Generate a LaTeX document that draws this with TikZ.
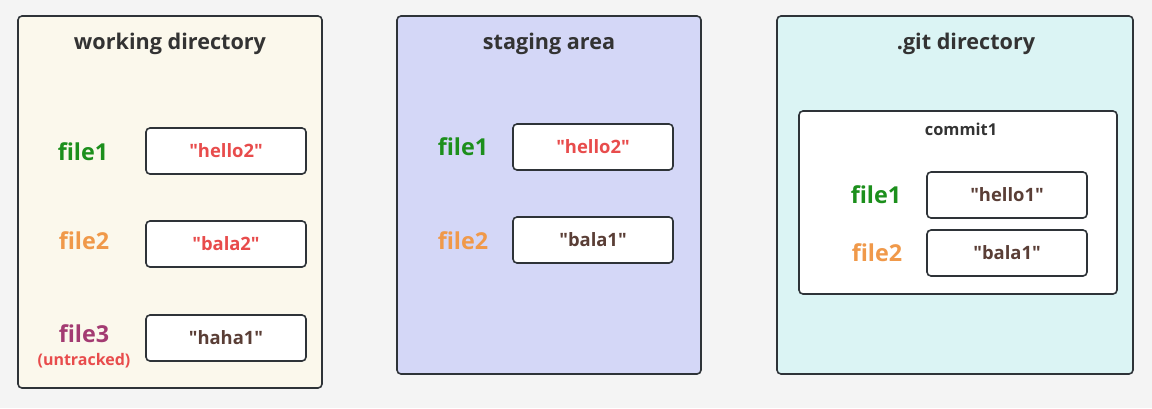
\documentclass[tikz,border=0pt]{standalone}
\usepackage{fontspec}
\setmainfont{Open Sans}
\newfontfamily\qfont{Open Sans}[Ligatures=ResetAll]
\newcommand{\dq}{{\qfont\symbol{"22}}}
\definecolor{bgc}{HTML}{F4F4F4}
\definecolor{edge}{HTML}{2E3338}
\definecolor{wdfill}{HTML}{FBF8EC}
\definecolor{safill}{HTML}{D4D7F7}
\definecolor{gdfill}{HTML}{DBF4F4}
\definecolor{tdark}{HTML}{333333}
\definecolor{cgreen}{HTML}{1C8F1C}
\definecolor{corange}{HTML}{F0994A}
\definecolor{cpurple}{HTML}{A33B72}
\definecolor{cred}{HTML}{E84C4C}
\definecolor{cbrown}{HTML}{5A3E36}
\tikzset{
  panel/.style={draw=edge, line width=1.2pt, rounded corners=3pt},
  valbox/.style={draw=edge, line width=1.2pt, rounded corners=3pt, fill=white, minimum width=160*0.75pt, minimum height=46*0.75pt, inner sep=0pt, font=\bfseries\fontsize{13.8}{16}\selectfont},
  title/.style={text=tdark, font=\bfseries\fontsize{16.2}{19}\selectfont},
  flabel/.style={font=\bfseries\fontsize{17.5}{21}\selectfont},
}
\begin{document}
\begin{tikzpicture}[x=0.75pt,y=-0.75pt]
\fill[bgc] (0,0) rectangle (1152,408);
\useasboundingbox (0,0) rectangle (1152,408);
% panels
\draw[panel, fill=wdfill] (18,16) rectangle (322,388);
\draw[panel, fill=safill] (397,16) rectangle (701,374);
\draw[panel, fill=gdfill] (777,16) rectangle (1133,374);
\node[title] (twd) at (170,43.5) {working directory};
\node[title] (tsa) at (549,43.5) {staging area};
\node[title] (tgd) at (966,43.5) {.git directory};
% working directory
\node[valbox, text=cred] (w1) at (226,151) {\dq hello2\dq};
\node[valbox, text=cred] (w2) at (226,244) {\dq bala2\dq};
\node[valbox, text=cbrown] (w3) at (226,338) {\dq haha1\dq};
\node[flabel, text=cgreen] (lw1) at (83,152) {file1};
\node[flabel, text=corange] (lw2) at (84,241) {file2};
\node[flabel, text=cpurple] (lw3) at (84,334) {file3};
\node[text=cred, font=\bfseries\fontsize{12}{14}\selectfont] (unt) at (84,361) {(untracked)};
% staging area
\node[valbox, text=cred] (s1) at (593,147) {\dq hello2\dq};
\node[valbox, text=cbrown] (s2) at (593,240) {\dq bala1\dq};
\node[flabel, text=cgreen] (ls1) at (463,147) {file1};
\node[flabel, text=corange] (ls2) at (463,241) {file2};
% git directory
\draw[panel, fill=white] (799,111) rectangle (1117,294);
\node[text=tdark, font=\bfseries\fontsize{12.3}{14}\selectfont] (c1) at (961,129) {commit1};
\node[valbox, text=cbrown] (g1) at (1007,195) {\dq hello1\dq};
\node[valbox, text=cbrown] (g2) at (1007,253) {\dq bala1\dq};
\node[flabel, text=cgreen] (lg1) at (876,195) {file1};
\node[flabel, text=corange] (lg2) at (877,253) {file2};
\end{tikzpicture}
\end{document}
